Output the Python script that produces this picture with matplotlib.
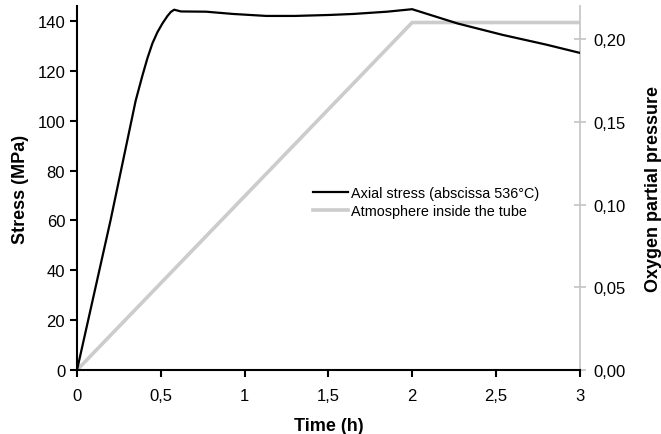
import matplotlib
matplotlib.use("Agg")
import matplotlib.pyplot as plt

plt.rcParams["font.family"] = ["Liberation Sans", "DejaVu Sans"]

# stress curve (time h, MPa)
STRESS_T = [0.0, 0.1, 0.2, 0.3, 0.35, 0.39, 0.42, 0.45, 0.48, 0.51, 0.54, 0.56, 0.58, 0.62,
            0.77, 0.93, 1.13, 1.3, 1.51, 1.65, 1.85, 2.0, 2.27, 2.54, 2.8, 3.0]
STRESS = [0.0, 30, 60, 92, 108, 118, 125, 131, 135.5, 139, 142, 143.6, 144.5, 143.8,
          143.7, 142.8, 142.0, 142.0, 142.4, 142.8, 143.7, 144.7, 139, 134.4, 130.5, 127.2]
# oxygen partial pressure
O2_T = [0.0, 2.0, 3.0]
O2 = [0.0, 0.21, 0.21]

XTICKS = [0, 0.5, 1, 1.5, 2, 2.5, 3]
XLABELS = ["0", "0,5", "1", "1,5", "2", "2,5", "3"]
YTICKS = [0, 20, 40, 60, 80, 100, 120, 140]
Y2TICKS = [0.0, 0.05, 0.10, 0.15, 0.20]
Y2LABELS = ["0,00", "0,05", "0,10", "0,15", "0,20"]

fig = plt.figure(figsize=(6.61, 4.35), dpi=100)
ax = fig.add_axes([0.1165, 0.147, 0.7605, 0.837])
ax2 = ax.twinx()

l1, = ax.plot(STRESS_T, STRESS, color="black", lw=1.6,
              label="Axial stress (abscissa 536°C)")
l2, = ax2.plot(O2_T, O2, color="#cccccc", lw=2.6,
               label="Atmosphere inside the tube")
ax.set_zorder(ax2.get_zorder() + 1)
ax.patch.set_visible(False)

ax.set_xlim(0, 3)
ax.set_ylim(0, 146)
ax2.set_ylim(0, 0.22)

ax.set_xticks(XTICKS)
ax.set_xticklabels(XLABELS)
ax.set_yticks(YTICKS)
ax2.set_yticks(Y2TICKS)
ax2.set_yticklabels(Y2LABELS)

for s in ["top", "right"]:
    ax.spines[s].set_visible(False)
for s in ["top", "left", "bottom"]:
    ax2.spines[s].set_visible(False)
ax.spines["left"].set_linewidth(1.5)
ax.spines["bottom"].set_linewidth(1.5)
ax2.spines["right"].set_color("#c4c4c4")
ax2.spines["right"].set_linewidth(1.2)

ax.tick_params(direction="out", length=5, width=1.5, labelsize=12)
ax.tick_params(axis="x", pad=8)
ax2.tick_params(direction="inout", length=8, width=1.2, color="#c4c4c4",
                labelsize=12, labelcolor="black", pad=6)

ax.set_xlabel("Time (h)", fontsize=13, fontweight="bold", labelpad=10)
ax.set_ylabel("Stress (MPa)", fontsize=13, fontweight="bold", labelpad=6)
ax2.set_ylabel("Oxygen partial pressure", fontsize=13, fontweight="bold", labelpad=14)

ax.legend(handles=[l1, l2], loc="upper left", bbox_to_anchor=(0.455, 0.525),
          frameon=False, fontsize=10.4, handlelength=2.4, handletextpad=0.2,
          labelspacing=0.3, borderpad=0)

fig.savefig("out.png", dpi=100)
